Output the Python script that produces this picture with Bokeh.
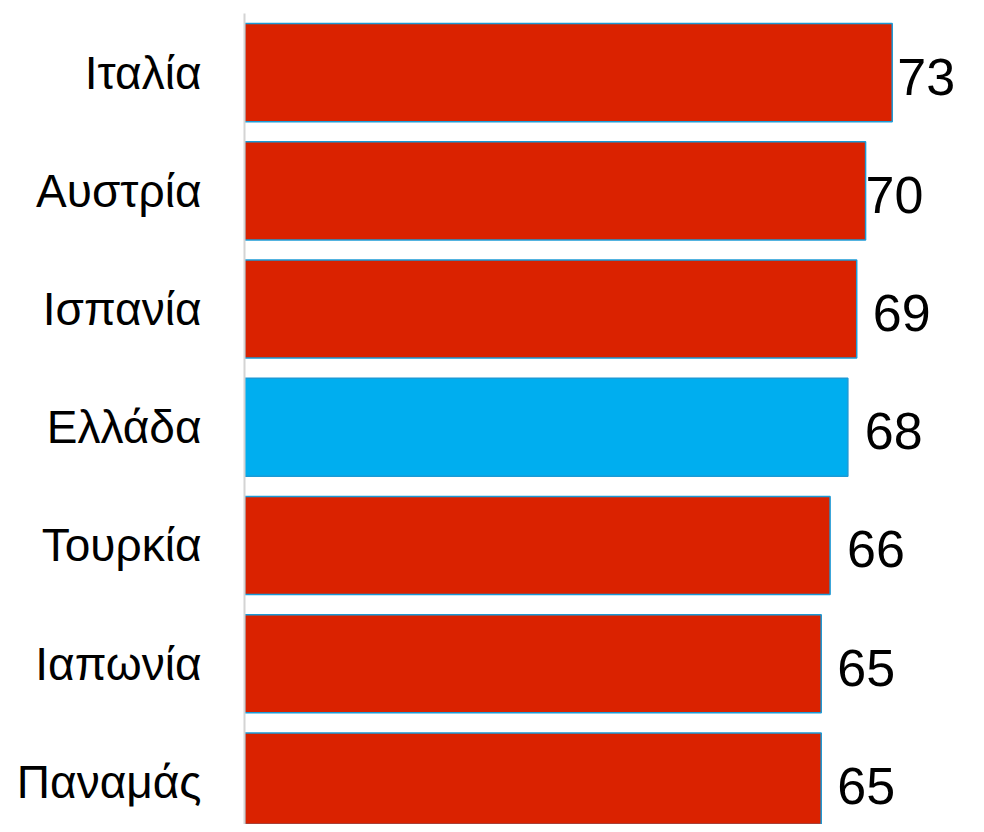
from bokeh.plotting import figure
from bokeh.models import ColumnDataSource, Range1d, FixedTicker
from bokeh.core.properties import value
from bokeh.embed import file_html
from bokeh.resources import INLINE

countries = ["Ιταλία", "Αυστρία", "Ισπανία", "Ελλάδα", "Τουρκία", "Ιαπωνία", "Παναμάς"]
scores = [73, 70, 69, 68, 66, 65, 65]
bar_colors = ["#DA2200", "#DA2200", "#DA2200", "#00AEEF", "#DA2200", "#DA2200", "#DA2200"]
label_offsets = [5, 0, 16, 17, 17, 16, 16]

idx = list(range(len(countries)))
src = ColumnDataSource(dict(y=idx, v=scores, c=bar_colors, lbl=[str(s) for s in scores],
                            off=label_offsets, name=countries))

p = figure(width=976, height=824, output_backend="svg", toolbar_location=None,
           x_range=Range1d(0, 82.5), y_range=Range1d(6.36, -0.5),
           min_border_left=244, min_border_right=0, min_border_top=13, min_border_bottom=0)

p.hbar(y="y", left=0, right="v", height=0.83, fill_color="c", line_color="#1B9AD6",
       line_width=1.5, source=src)
p.text(x="v", y="y", text="lbl", x_offset="off", y_offset=4, source=src,
       text_font=value("Liberation Sans"), text_font_size="52px", text_color="black",
       text_baseline="middle", text_align="left")

p.xaxis.visible = False
p.xgrid.visible = False
p.ygrid.visible = False
p.outline_line_color = None

ya = p.yaxis[0]
ya.ticker = FixedTicker(ticks=idx)
ya.major_label_overrides = {i: n for i, n in zip(idx, countries)}
ya.major_tick_line_color = None
ya.minor_tick_line_color = None
ya.major_tick_out = 0
ya.major_label_standoff = 43
ya.axis_line_color = "#D4D4D4"
ya.axis_line_width = 2
ya.major_label_text_font = "Liberation Sans"
ya.major_label_text_font_size = "46px"
ya.major_label_text_color = "black"

open("out.html", "w").write(file_html(p, INLINE))
